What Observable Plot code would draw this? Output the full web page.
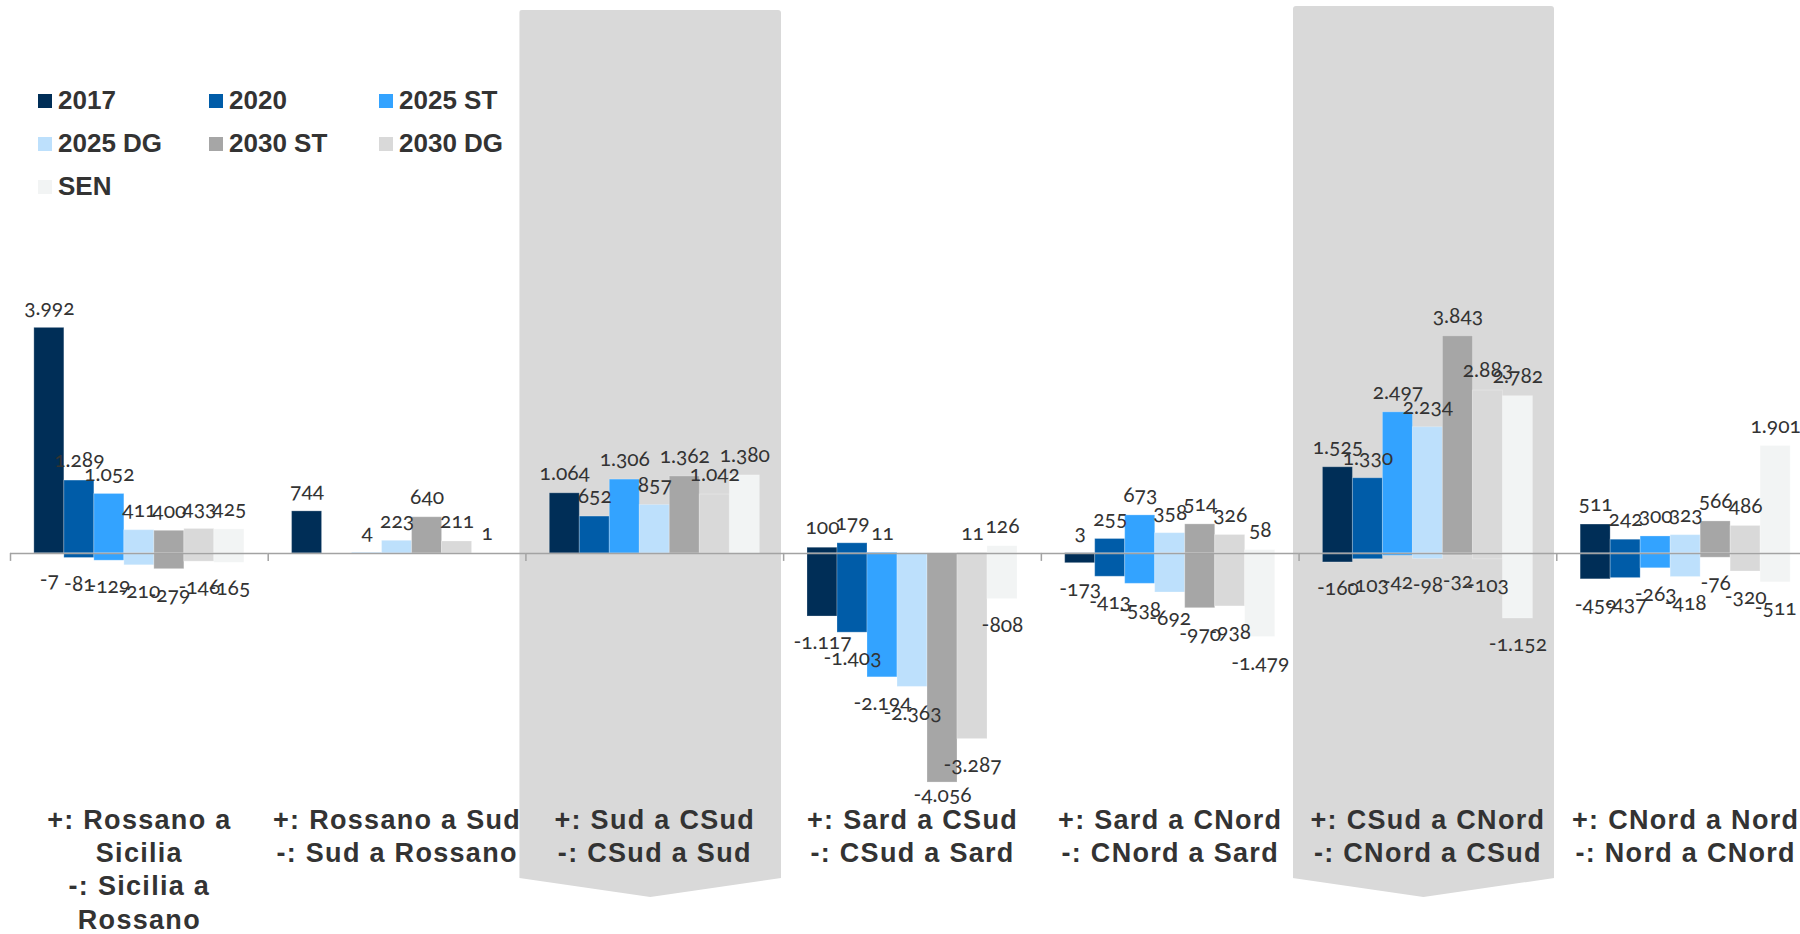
<!DOCTYPE html>
<html><head><meta charset="utf-8">
<script src="https://cdn.jsdelivr.net/npm/d3@7"></script>
<script src="https://cdn.jsdelivr.net/npm/@observablehq/plot@0.6"></script>
<style>
html,body{margin:0;padding:0;background:#fff;overflow:hidden;}
#wrap{position:relative;width:1800px;height:934px;overflow:hidden;}
.band{position:absolute;background:#d9d9d9;z-index:0;border-radius:3px 3px 0 0;}
#chart{position:absolute;left:0;top:0;z-index:1;}
#chart svg{overflow:hidden;background:transparent;}
#chart text{font-variant-numeric:oldstyle-nums;font-feature-settings:"onum" 1;}
#legend{position:absolute;left:38px;top:79px;z-index:2;display:grid;grid-template-columns:171px 170px 170px;}
.item{display:flex;align-items:center;height:43px;font:bold 26px "Liberation Sans",Arial,sans-serif;color:#333;}
.sw{width:14px;height:14px;margin-right:6px;flex:none;}
</style></head>
<body>
<div id="wrap">
  <div id="bands"></div>
  <div id="chart"></div>
  <div id="legend"></div>
</div>
<script>
// ---- data ----
const categories = [
  "+: Rossano a\nSicilia\n-: Sicilia a\nRossano",
  "+: Rossano a Sud\n-: Sud a Rossano",
  "+: Sud a CSud\n-: CSud a Sud",
  "+: Sard a CSud\n-: CSud a Sard",
  "+: Sard a CNord\n-: CNord a Sard",
  "+: CSud a CNord\n-: CNord a CSud",
  "+: CNord a Nord\n-: Nord a CNord"
];
const series = ["2017", "2020", "2025 ST", "2025 DG", "2030 ST", "2030 DG", "SEN"];
const colors = ["#002e57", "#005ca8", "#33a3ff", "#bde0fc", "#a6a6a6", "#d9d9d9", "#f2f4f4"];

// positive flows (+) per category, in series order
const posRossanoSicilia = [3992, 1289, 1052, 411, 400, 433, 425];
const posRossanoSud     = [744, null, 4, 223, 640, 211, 1];
const posSudCSud        = [1064, 652, 1306, 857, 1362, 1042, 1380];
const posSardCSud       = [100, 179, 11, null, null, 11, 126];
const posSardCNord      = [3, 255, 673, 358, 514, 326, 58];
const posCSudCNord      = [1525, 1330, 2497, 2234, 3843, 2883, 2782];
const posCNordNord      = [511, 242, 300, 323, 566, 486, 1901];
// negative flows (-) per category
const negRossanoSicilia = [-7, -81, -129, -210, -279, -146, -165];
const negRossanoSud     = [null, null, null, null, null, null, null];
const negSudCSud        = [null, null, null, null, null, null, null];
const negSardCSud       = [-1117, -1403, -2194, -2363, -4056, -3287, -808];
const negSardCNord      = [-173, -413, -538, -692, -970, -938, -1479];
const negCSudCNord      = [-160, -103, -42, -98, -32, -103, -1152];
const negCNordNord      = [-459, -437, -263, -418, -76, -320, -511];

const positives = [posRossanoSicilia, posRossanoSud, posSudCSud, posSardCSud, posSardCNord, posCSudCNord, posCNordNord];
const negatives = [negRossanoSicilia, negRossanoSud, negSudCSud, negSardCSud, negSardCNord, negCSudCNord, negCNordNord];
const highlighted = [categories[2], categories[5]];

const rows = [];
categories.forEach((c, i) => series.forEach((s, j) => {
  if (positives[i][j] != null) rows.push({cat: c, series: s, value: positives[i][j]});
  if (negatives[i][j] != null) rows.push({cat: c, series: s, value: negatives[i][j]});
}));

const loc = d3.formatLocale({decimal: ",", thousands: ".", grouping: [3], currency: ["", " €"], minus: "-"});
const fmt = loc.format(",d");

// ---- layout ----
const W = 1800, H = 934, mL = 10, mR = -14, mT = 10, mB = 128;
const yDomain = [-4480, 9610];
const k = (H - mT - mB) / (yDomain[1] - yDomain[0]); // px per unit
const padOuter = 0.795;
const step = (W - mR - mL) / categories.length;
const bw = step / (series.length + 2 * padOuter);
// negative labels sit below the bar end, but never below the frame bottom
const negLabelY = d => Math.max(d.value - 26 / k, yDomain[0] + 11 / k);

const plot = Plot.plot({
  width: W, height: H,
  marginLeft: mL, marginRight: mR, marginTop: mT, marginBottom: mB,
  style: {background: "transparent", overflow: "hidden"},
  fx: {domain: categories, padding: 0, round: false, axis: null, label: null},
  x: {domain: series, paddingInner: 0, paddingOuter: padOuter, round: false, axis: null, label: null},
  y: {domain: yDomain, axis: null, label: null},
  color: {domain: series, range: colors},
  marks: [
    Plot.barY(rows, {fx: "cat", x: "series", y: "value", fill: "series", stroke: "#ffffff", strokeOpacity: 0.25, strokeWidth: 1}),
    Plot.ruleY([0], {stroke: "#a3a3a3", strokeWidth: 1.5}),
    Plot.ruleX(categories, {fx: d => d, x: () => series[0], y1: () => 0, y2: () => 0, insetBottom: -8,
      dx: -(bw / 2 + padOuter * bw), stroke: "#a3a3a3", strokeWidth: 1.5}),
    Plot.text(rows.filter(d => d.value > 0), {fx: "cat", x: "series", y: "value", text: d => fmt(d.value),
      dy: -20, fontSize: 21, fill: "#333", fontFamily: "Lato, 'Open Sans', sans-serif"}),
    Plot.text(rows.filter(d => d.value < 0), {fx: "cat", x: "series", y: negLabelY, text: d => fmt(d.value),
      fontSize: 21, fill: "#333", fontFamily: "Lato, 'Open Sans', sans-serif"}),
    Plot.text(categories, {fx: d => d, text: d => d, frameAnchor: "bottom", lineAnchor: "top", dy: -1,
      lineHeight: 1.23, fontSize: 27, fontWeight: "bold", fill: "#333",
      fontFamily: "'Liberation Sans', Arial, sans-serif"})
  ]
});
// slightly wider tracking for the bold category labels
d3.select(plot).selectAll("g")
  .filter(function () { return this.getAttribute("font-weight") === "bold"; })
  .style("letter-spacing", "1.3px");
document.getElementById("chart").appendChild(plot);

// ---- highlight bands (chevron shaped) behind the chart ----
const fxs = plot.scale("fx");
const bandsEl = document.getElementById("bands");
highlighted.forEach((c, i) => {
  const left = (fxs && fxs.apply ? fxs.apply(c) : mL + categories.indexOf(c) * step) - 6;
  const width = step + 4;
  const top = i === 0 ? 10 : 6;
  const bottom = 897;
  const div = document.createElement("div");
  div.className = "band";
  div.style.left = left + "px";
  div.style.top = top + "px";
  div.style.width = width + "px";
  div.style.height = (bottom - top) + "px";
  const sideEnd = ((878 - top) / (bottom - top) * 100).toFixed(2);
  div.style.clipPath = `polygon(0% 0%, 100% 0%, 100% ${sideEnd}%, 50% 100%, 0% ${sideEnd}%)`;
  bandsEl.appendChild(div);
});

// ---- legend ----
const legend = d3.select("#legend");
series.forEach((s, i) => {
  const it = legend.append("div").attr("class", "item");
  it.append("span").attr("class", "sw").style("background", colors[i]);
  it.append("span").text(s);
});
</script>
</body></html>
